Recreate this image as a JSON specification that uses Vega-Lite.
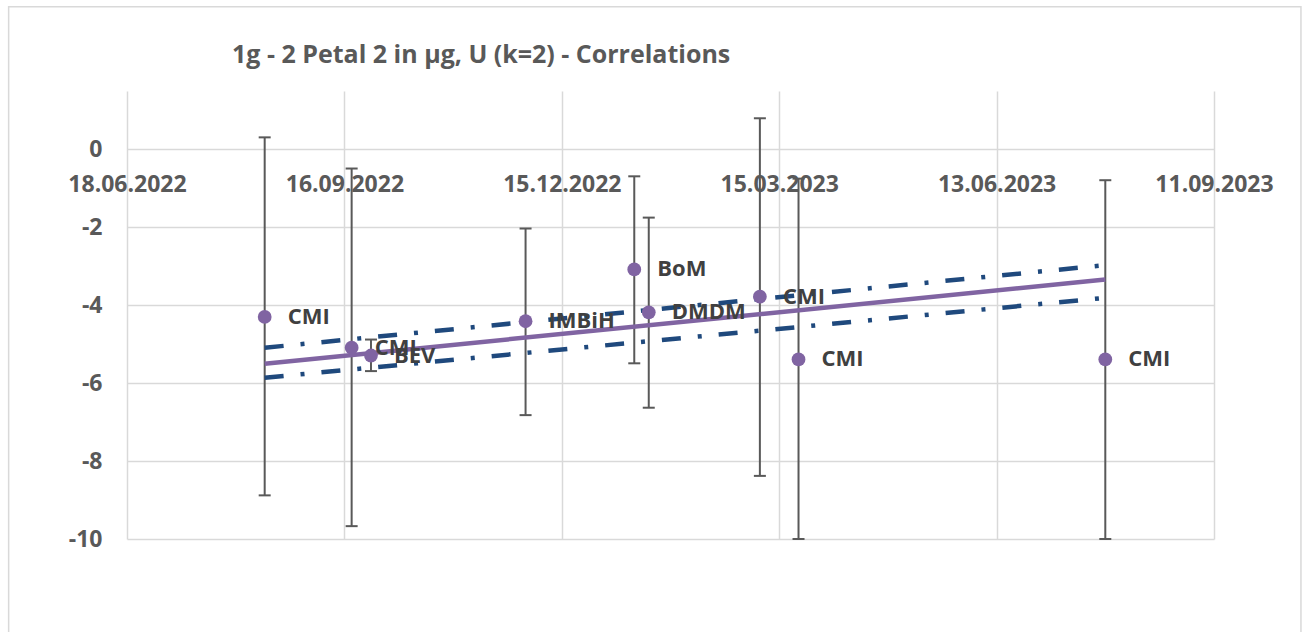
{
  "$schema": "https://vega.github.io/schema/vega-lite/v6.json",
  "autosize": "none",
  "width": 1087,
  "height": 448,
  "padding": {"left": 127, "top": 91, "right": 89, "bottom": 93},
  "background": "white",
  "config": {"view": {"stroke": null}, "font": "Open Sans"},
  "title": {
    "text": "1g - 2 Petal 2 in µg, U (k=2) - Correlations",
    "anchor": "start",
    "frame": "group",
    "dx": 105,
    "offset": -82,
    "baseline": "alphabetic",
    "font": "Open Sans",
    "fontSize": 25,
    "fontWeight": "bold",
    "color": "#595959"
  },
  "datasets": {
    "pts": [
      {"date": "2022-08-14", "value": -4.30, "lo": -8.88, "hi": 0.31, "lab": "CMI"},
      {"date": "2022-09-19", "value": -5.09, "lo": -9.67, "hi": -0.49, "lab": "CMI"},
      {"date": "2022-09-27", "value": -5.29, "lo": -5.69, "hi": -4.88, "lab": "BEV"},
      {"date": "2022-11-30", "value": -4.41, "lo": -6.82, "hi": -2.03, "lab": "IMBiH"},
      {"date": "2023-01-14", "value": -3.08, "lo": -5.49, "hi": -0.69, "lab": "BoM"},
      {"date": "2023-01-20", "value": -4.18, "lo": -6.63, "hi": -1.75, "lab": "DMDM"},
      {"date": "2023-03-07", "value": -3.78, "lo": -8.38, "hi": 0.80, "lab": "CMI"},
      {"date": "2023-03-23", "value": -5.39, "lo": -10.0, "hi": -0.75, "lab": "CMI"},
      {"date": "2023-07-28", "value": -5.39, "lo": -10.0, "hi": -0.79, "lab": "CMI"}
    ],
    "lines": [
      {"series": "trend", "date": "2022-08-14", "value": -5.50},
      {"series": "trend", "date": "2023-07-28", "value": -3.34},
      {"series": "upper", "date": "2022-08-14", "value": -5.09},
      {"series": "upper", "date": "2023-07-28", "value": -2.97},
      {"series": "lower", "date": "2022-08-14", "value": -5.86},
      {"series": "lower", "date": "2023-07-28", "value": -3.81}
    ]
  },
  "layer": [
    {
      "data": {"name": "pts"},
      "mark": {"type": "rule", "color": "#595959", "strokeWidth": 2},
      "encoding": {
        "x": {
          "field": "date", "type": "temporal", "title": null,
          "scale": {"type": "utc", "domain": [{"year": 2022, "month": 6, "date": 18, "utc": true}, {"year": 2023, "month": 9, "date": 11, "utc": true}]},
          "axis": {
            "values": [
              {"year": 2022, "month": 6, "date": 18, "utc": true},
              {"year": 2022, "month": 9, "date": 16, "utc": true},
              {"year": 2022, "month": 12, "date": 15, "utc": true},
              {"year": 2023, "month": 3, "date": 15, "utc": true},
              {"year": 2023, "month": 6, "date": 13, "utc": true},
              {"year": 2023, "month": 9, "date": 11, "utc": true}
            ],
            "labelExpr": "utcFormat(datum.value, '%d.%m.%Y')",
            "offset": -390, "labelPadding": 24,
            "labelFont": "Open Sans", "labelFontSize": 23, "labelFontWeight": "bold", "labelColor": "#595959",
            "domain": false, "ticks": false, "grid": true, "gridColor": "#D9D9D9", "gridWidth": 1.5,
            "labelOverlap": false, "labelFlush": false, "labelBound": false
          }
        },
        "y": {
          "field": "lo", "type": "quantitative", "title": null,
          "scale": {"domain": [-10, 1.5], "nice": false, "zero": false},
          "axis": {
            "values": [-10, -8, -6, -4, -2, 0],
            "labelExpr": "datum.value < 0 ? '-' + abs(datum.value) : '' + datum.value",
            "labelPadding": 25,
            "labelFont": "Open Sans", "labelFontSize": 23, "labelFontWeight": "bold", "labelColor": "#595959",
            "domain": false, "ticks": false, "grid": true, "gridColor": "#D9D9D9", "gridWidth": 1.5
          }
        },
        "y2": {"field": "hi"}
      }
    },
    {
      "data": {"name": "pts"},
      "mark": {"type": "tick", "orient": "horizontal", "size": 12, "thickness": 2, "color": "#595959", "opacity": 1},
      "encoding": {
        "x": {"field": "date", "type": "temporal", "title": null},
        "y": {"field": "lo", "type": "quantitative", "title": null}
      }
    },
    {
      "data": {"name": "pts"},
      "mark": {"type": "tick", "orient": "horizontal", "size": 12, "thickness": 2, "color": "#595959", "opacity": 1},
      "encoding": {
        "x": {"field": "date", "type": "temporal", "title": null},
        "y": {"field": "hi", "type": "quantitative", "title": null}
      }
    },
    {
      "data": {"name": "lines"},
      "transform": [{"filter": "datum.series !== 'trend'"}],
      "mark": {"type": "line", "color": "#1F497D", "strokeWidth": 4.5, "strokeDash": [19, 17, 4, 17], "strokeCap": "butt"},
      "encoding": {
        "x": {"field": "date", "type": "temporal", "title": null},
        "y": {"field": "value", "type": "quantitative", "title": null},
        "detail": {"field": "series"}
      }
    },
    {
      "data": {"name": "lines"},
      "transform": [{"filter": "datum.series === 'trend'"}],
      "mark": {"type": "line", "color": "#8064A2", "strokeWidth": 4.5},
      "encoding": {
        "x": {"field": "date", "type": "temporal", "title": null},
        "y": {"field": "value", "type": "quantitative", "title": null}
      }
    },
    {
      "data": {"name": "pts"},
      "mark": {"type": "point", "shape": "circle", "filled": true, "size": 190, "color": "#8064A2", "opacity": 1},
      "encoding": {
        "x": {"field": "date", "type": "temporal", "title": null},
        "y": {"field": "value", "type": "quantitative", "title": null}
      }
    },
    {
      "data": {"name": "pts"},
      "mark": {"type": "text", "align": "left", "baseline": "middle", "dx": 23, "font": "Open Sans", "fontSize": 22, "fontWeight": "bold", "color": "#404040"},
      "encoding": {
        "x": {"field": "date", "type": "temporal", "title": null},
        "y": {"field": "value", "type": "quantitative", "title": null},
        "text": {"field": "lab"}
      }
    },
    {
      "data": {"values": [{}]},
      "mark": {"type": "rect", "fill": null, "stroke": "#D9D9D9", "strokeWidth": 1.5},
      "encoding": {
        "x": {"datum": {"year": 2022, "month": 4, "date": 30, "utc": true}, "type": "temporal"},
        "x2": {"datum": {"year": 2023, "month": 10, "date": 17, "utc": true}},
        "y": {"datum": 3.66, "type": "quantitative"},
        "y2": {"datum": -13}
      }
    }
  ]
}
